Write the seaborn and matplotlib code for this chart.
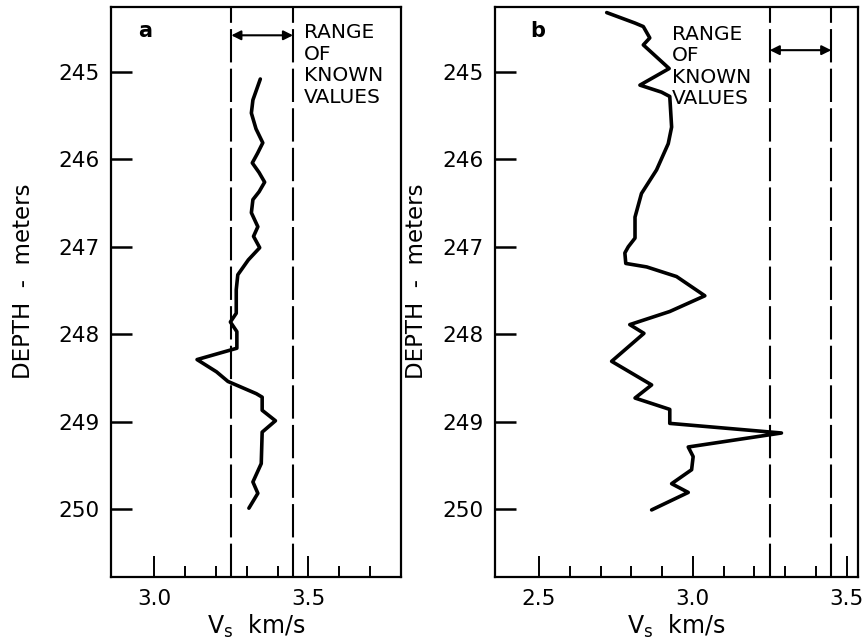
import numpy as np
import pandas as pd
import matplotlib
matplotlib.use('Agg')
import matplotlib.pyplot as plt
import seaborn as sns

# panel a: Vs profile (km/s) vs depth (m)
a_depth = [245.08, 245.32, 245.47, 245.65, 245.81, 245.93, 246.04, 246.15, 246.26, 246.37,
           246.46, 246.61, 246.77, 246.88, 247.01, 247.15, 247.32, 247.49, 247.61, 247.76,
           247.86, 247.97, 248.16, 248.29, 248.43, 248.54, 248.68, 248.72, 248.87, 248.99,
           249.12, 249.48, 249.69, 249.82, 249.99]
a_vs = [3.344, 3.320, 3.315, 3.330, 3.352, 3.335, 3.318, 3.340, 3.358, 3.340,
        3.320, 3.315, 3.336, 3.322, 3.342, 3.305, 3.271, 3.266, 3.266, 3.266,
        3.247, 3.268, 3.268, 3.139, 3.202, 3.239, 3.331, 3.350, 3.350, 3.393,
        3.350, 3.347, 3.320, 3.336, 3.307]

# panel b
b_depth = [244.32, 244.44, 244.48, 244.61, 244.69, 244.96, 245.15, 245.23, 245.28, 245.63,
           245.82, 246.12, 246.39, 246.66, 246.90, 247.00, 247.07, 247.19, 247.23, 247.34,
           247.56, 247.74, 247.89, 247.99, 248.31, 248.58, 248.73, 248.86, 249.02, 249.13,
           249.29, 249.40, 249.55, 249.71, 249.81, 250.01]
b_vs = [2.720, 2.812, 2.839, 2.860, 2.839, 2.923, 2.828, 2.898, 2.925, 2.931,
        2.920, 2.882, 2.833, 2.812, 2.812, 2.790, 2.779, 2.782, 2.850, 2.947,
        3.039, 2.925, 2.795, 2.841, 2.736, 2.866, 2.812, 2.925, 2.925, 3.288,
        2.985, 3.001, 2.996, 2.931, 2.985, 2.866]

known_range = [3.25, 3.45]
depth_ticks = [245, 246, 247, 248, 249, 250]
a_major = [3.0, 3.5]
a_minor = [3.1, 3.2, 3.3, 3.4, 3.6, 3.7]
b_major = [2.5, 3.0, 3.5]
b_minor = [2.6, 2.7, 2.8, 2.9, 3.1, 3.2, 3.3, 3.4]

sns.set_theme(style='ticks')
plt.rcParams['font.family'] = ['DejaVu Sans']
plt.rcParams['axes.linewidth'] = 1.6
for key in ['text.color', 'axes.labelcolor', 'xtick.color', 'ytick.color', 'axes.edgecolor']:
    plt.rcParams[key] = 'black'

fig = plt.figure(figsize=(8.65, 6.41), dpi=100)
ax_a = fig.add_axes([0.1283, 0.1006, 0.3353, 0.8885])
ax_b = fig.add_axes([0.5723, 0.1006, 0.4193, 0.8885])

panels = [
    (ax_a, pd.DataFrame({'vs': a_vs, 'depth': a_depth}), (2.86, 3.80), a_major, a_minor,
     'a', -0.262, (3.484, 244.44), 244.58, 0.093),
    (ax_b, pd.DataFrame({'vs': b_vs, 'depth': b_depth}), (2.357, 3.536), b_major, b_minor,
     'b', -0.185, (2.931, 244.46), 244.75, 0.0965),
]

for ax, df, xlim, major, minor, tag, ylab_x, txt_pos, arrow_y, tag_x in panels:
    sns.lineplot(data=df, x='vs', y='depth', sort=False, estimator=None,
                 color='black', lw=2.6, ax=ax)
    for v in known_range:
        ax.axvline(v, color='black', lw=1.5, dashes=(16, 3))
    ax.annotate('', xy=(known_range[0], arrow_y), xytext=(known_range[1], arrow_y),
                arrowprops=dict(arrowstyle='<|-|>', color='black', lw=1.5,
                                mutation_scale=14, shrinkA=0, shrinkB=0))
    ax.text(txt_pos[0], txt_pos[1], 'RANGE\nOF\nKNOWN\nVALUES', fontsize=14.5,
            va='top', ha='left', linespacing=1.17)
    ax.text(tag_x, 0.947, tag, transform=ax.transAxes,
            fontsize=15, fontweight='bold', va='baseline')

    ax.set_xlim(*xlim)
    ax.set_ylim(250.772, 244.256)
    ax.set_xticks(major)
    ax.set_xticklabels([f'{v:.1f}' for v in major])
    ax.set_xticks(minor, minor=True)
    ax.set_yticks(depth_ticks)
    ax.set_yticklabels([str(d) for d in depth_ticks])
    ax.tick_params(axis='x', which='major', direction='in', length=15, width=1.4,
                   labelsize=15.5, pad=9, bottom=True, top=False)
    ax.tick_params(axis='x', which='minor', direction='in', length=8, width=1.4,
                   bottom=True, top=False)
    ax.tick_params(axis='y', which='major', direction='in', length=15, width=1.8,
                   labelsize=15.5, pad=8, left=True, right=False)
    ax.tick_params(axis='y', which='minor', left=False, right=False)
    for side in ['top', 'right', 'left', 'bottom']:
        ax.spines[side].set_visible(True)
    ax.set_xlabel(r'V$_{\mathregular{s}}$  km/s', fontsize=17, labelpad=3)
    ax.set_ylabel('DEPTH  -  meters', fontsize=16.5)
    ax.yaxis.set_label_coords(ylab_x, 0.519)
    ax.grid(False)

fig.savefig('out.png', dpi=100)
